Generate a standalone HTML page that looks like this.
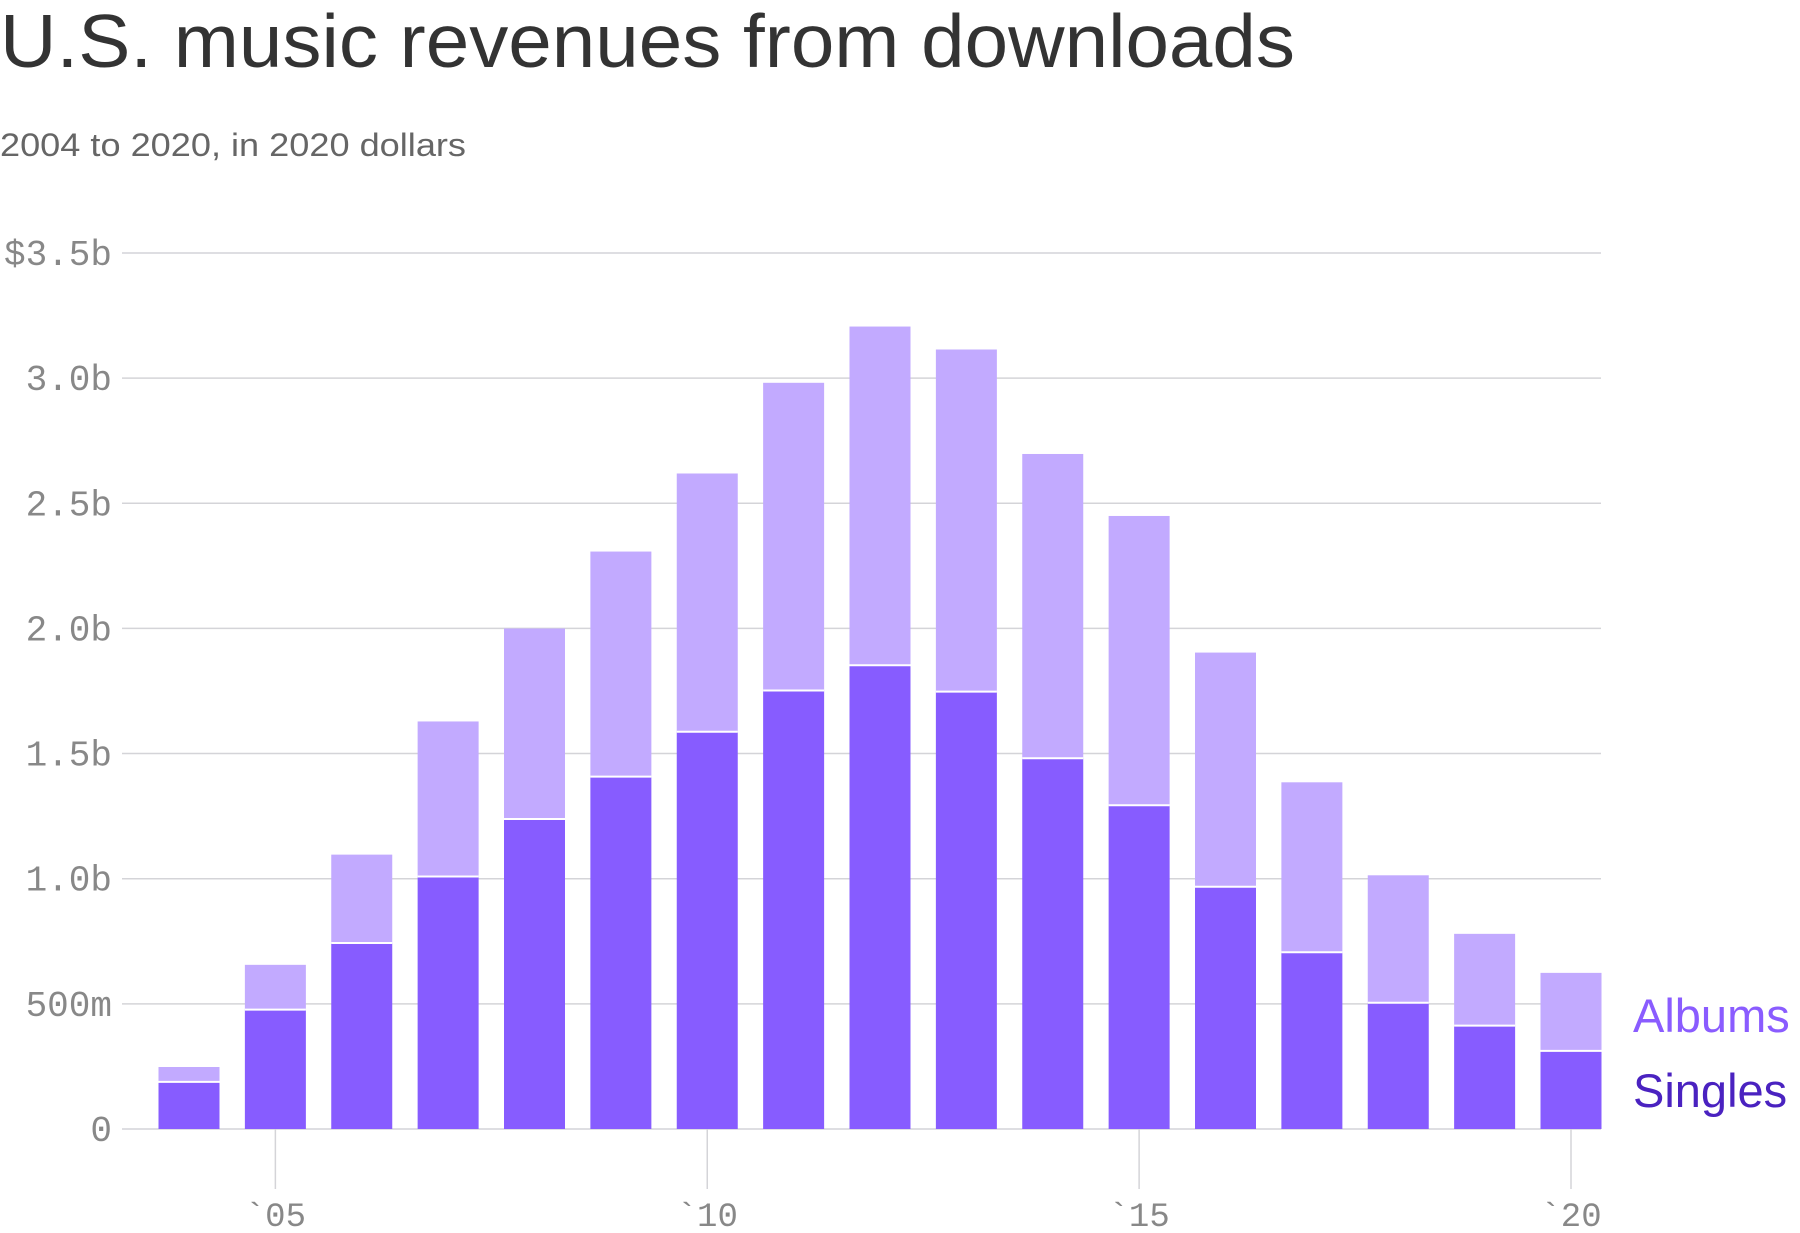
<!DOCTYPE html>
<html><head><meta charset="utf-8"><style>
html,body{margin:0;padding:0;background:#fff;}
svg{display:block;}
</style></head><body>
<svg id="c" width="1800" height="1233" xmlns="http://www.w3.org/2000/svg" font-family="Liberation Sans, sans-serif">
<text x="0" y="67" font-size="75" fill="#333" textLength="1295" lengthAdjust="spacingAndGlyphs">U.S. music revenues from downloads</text>
<text x="0" y="156" font-size="32" fill="#666" textLength="466" lengthAdjust="spacingAndGlyphs">2004 to 2020, in 2020 dollars</text>
<g id="g"></g>
<text x="1633" y="1032" font-size="47" fill="#8a5cff">Albums</text>
<text x="1633" y="1107" font-size="47" fill="#4a22c0">Singles</text>
</svg>
<script>
var g=document.getElementById('g'),s='';
var z=1129;
var labs=['$3.5b','3.0b','2.5b','2.0b','1.5b','1.0b','500m','0'];
for(var i=0;i<8;i++){var y=253+i*125.14;
 s+='<line x1="122" x2="1601" y1="'+y+'" y2="'+y+'" stroke="#d4d4d8" stroke-width="1.5"/>';
 s+='<text x="112" y="'+(y+12)+'" font-family="Liberation Mono, monospace" font-size="36" fill="#888" text-anchor="end">'+labs[i]+'</text>';}
var tot=[929,840,744,628,547,480,412,333,284,304,395,449,568,681,762,813,847];
var sin=[942,879,821,763,713,676,637,601,579,602,660,701,772,829,873,893,915];
function Y(d){return z-(983-d)*1.148;}
var p=(1571-189)/16;
for(var k=0;k<17;k++){var cx=189+k*p,x=cx-30.5;
 var yt=Y(tot[k]),ys=Y(sin[k]);
 s+='<rect x="'+x+'" y="'+yt+'" width="61" height="'+(ys-yt)+'" fill="#c2aaff"/>';
 s+='<rect x="'+x+'" y="'+ys+'" width="61" height="'+(z-ys)+'" fill="#875cff"/>';
 s+='<line x1="'+x+'" x2="'+(x+61)+'" y1="'+ys+'" y2="'+ys+'" stroke="#fff" stroke-width="2"/>';}
[1,6,11,16].forEach(function(k,j){var cx=189+k*p;
 s+='<line x1="'+cx+'" x2="'+cx+'" y1="'+z+'" y2="1189" stroke="#d4d4d8" stroke-width="1.5"/>';
 s+='<text x="'+cx+'" y="1226" font-family="Liberation Mono, monospace" font-size="34" fill="#888" text-anchor="middle">`'+['05','10','15','20'][j]+'</text>';});
g.innerHTML=s;
</script>
</body></html>
